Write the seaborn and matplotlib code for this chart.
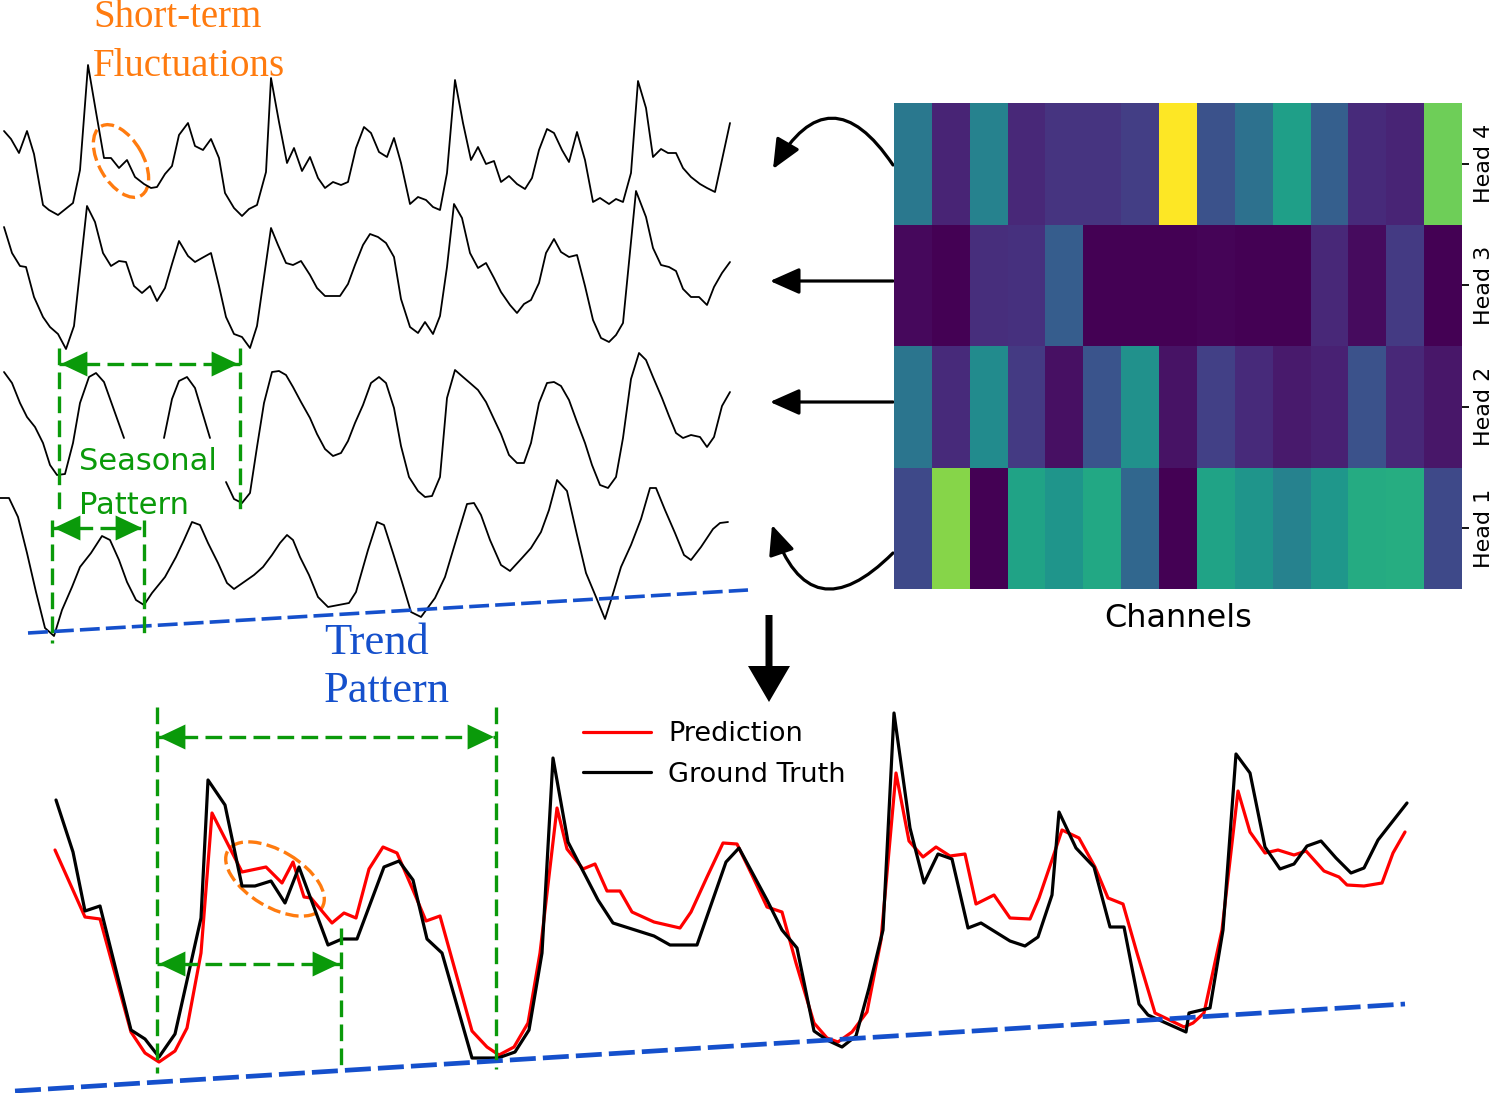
import numpy as np
import pandas as pd
import matplotlib
import matplotlib.pyplot as plt
import seaborn as sns
from matplotlib.patches import Ellipse, FancyArrowPatch

matplotlib.use('Agg')

W, H = 1495, 1093

# ---- top-left input series (time position, level) ----
s1_t = [4, 11, 19, 27, 34, 43, 49, 58, 73, 80, 88, 96, 104, 111, 119, 127, 135, 144, 151, 157, 165, 172, 179, 188, 195,
        203, 211, 219, 225, 234, 242, 249, 257, 266, 271, 279, 287, 294, 302, 310, 318, 325, 333, 341, 348, 356, 364,
        371, 379, 387, 394, 401, 410, 418, 426, 433, 440, 447, 455, 463, 471, 478, 486, 494, 501, 509, 517, 525, 532,
        539, 547, 554, 562, 569, 577, 585, 593, 600, 609, 616, 623, 631, 638, 646, 653, 661, 668, 676, 683, 691, 700,
        707, 715, 730]
s1_y = [131, 139, 153, 131, 154, 205, 210, 215, 203, 170, 65, 112, 158, 158, 168, 160, 177, 184, 188, 187, 174, 166,
        135, 123, 146, 150, 139, 158, 193, 208, 216, 209, 205, 172, 78, 122, 163, 148, 171, 157, 178, 188, 182, 185, 182,
        148, 127, 133, 152, 157, 138, 163, 204, 197, 200, 207, 210, 173, 80, 123, 160, 147, 164, 161, 182, 176, 184, 189,
        178, 150, 129, 133, 150, 162, 132, 160, 202, 198, 204, 199, 202, 173, 81, 108, 157, 149, 153, 153, 168, 177, 184,
        188, 192, 123]

s2_t = [4, 12, 20, 26, 34, 43, 50, 58, 66, 74, 87, 95, 103, 111, 119, 126, 134, 142, 150, 157, 165, 172, 179, 188, 195,
        202, 211, 219, 226, 234, 242, 250, 257, 271, 278, 286, 293, 301, 310, 317, 325, 333, 340, 348, 355, 363, 370,
        378, 386, 394, 401, 410, 418, 425, 433, 440, 447, 454, 462, 470, 478, 486, 494, 501, 510, 517, 524, 531, 539,
        546, 554, 561, 569, 577, 585, 593, 601, 609, 616, 623, 636, 646, 653, 661, 669, 676, 683, 691, 699, 707, 714,
        722, 730]
s2_y = [227, 253, 266, 267, 297, 317, 327, 334, 349, 326, 206, 222, 253, 266, 261, 262, 286, 293, 286, 301, 288, 264,
        241, 256, 262, 258, 253, 286, 317, 334, 337, 348, 326, 228, 245, 263, 265, 261, 275, 288, 296, 296, 296, 284, 265,
        245, 234, 237, 243, 257, 299, 327, 333, 322, 334, 316, 267, 204, 218, 253, 268, 263, 278, 292, 305, 313, 304, 300,
        283, 253, 239, 252, 257, 255, 286, 320, 338, 342, 335, 323, 191, 217, 248, 265, 267, 271, 289, 297, 297, 305, 287,
        273, 262]

# NaN marks where the series runs behind the "Seasonal Pattern" label
s3_t = [4, 12, 20, 27, 35, 43, 50, 57, 65, 73, 80, 89, 96, 104, 124, 144, 164, 172, 179, 187, 195, 210, 218, 226, 234,
        242, 250, 257, 264, 272, 279, 286, 293, 301, 310, 317, 325, 333, 341, 348, 355, 363, 371, 379, 386, 394, 401,
        409, 418, 425, 432, 440, 447, 455, 463, 470, 478, 486, 493, 501, 509, 517, 524, 531, 539, 547, 554, 561, 569,
        577, 585, 592, 600, 608, 616, 623, 631, 639, 646, 653, 662, 669, 676, 683, 691, 700, 707, 714, 722, 730]
s3_y = [372, 383, 403, 417, 427, 443, 465, 475, 474, 443, 403, 377, 373, 382, 438, np.nan, 438, 399, 381, 377, 388, 438,
        np.nan, 482, 499, 503, 493, 447, 403, 372, 371, 375, 387, 402, 418, 434, 449, 456, 453, 441, 423, 405, 383, 377,
        383, 408, 446, 477, 491, 497, 496, 477, 398, 370, 377, 383, 390, 402, 417, 434, 455, 463, 463, 443, 403, 383, 382,
        386, 400, 422, 443, 465, 485, 488, 477, 438, 379, 353, 360, 377, 398, 416, 433, 438, 435, 437, 447, 437, 406, 392]

s4_t = [0, 9, 18, 27, 36, 45, 54, 62, 72, 80, 91, 102, 110, 119, 127, 136, 144, 152, 165, 176, 184, 192, 200, 208, 218,
        227, 234, 244, 254, 263, 272, 280, 287, 293, 300, 309, 318, 328, 349, 356, 368, 377, 384, 393, 402, 411, 421,
        435, 445, 457, 467, 474, 481, 490, 501, 510, 522, 531, 541, 549, 557, 567, 577, 586, 596, 605, 612, 621, 631,
        641, 650, 656, 665, 675, 684, 691, 701, 713, 720, 728]
s4_y = [498, 498, 517, 553, 592, 628, 636, 610, 587, 567, 553, 536, 540, 560, 582, 600, 605, 593, 577, 557, 540, 522,
        525, 543, 563, 583, 589, 582, 575, 567, 555, 543, 535, 540, 557, 575, 597, 607, 603, 592, 550, 522, 525, 553, 582,
        612, 617, 598, 577, 537, 504, 503, 515, 540, 565, 571, 558, 548, 532, 510, 480, 491, 535, 573, 597, 619, 597, 567,
        545, 519, 488, 488, 510, 533, 555, 560, 547, 529, 523, 522]

# ---- bottom: prediction vs ground truth ----
gt_t = [56, 73, 85, 100, 131, 145, 159, 175, 201, 208, 225, 242, 255, 271, 285, 299, 328, 342, 357, 384, 399, 413, 427,
        442, 472, 498, 515, 529, 542, 553, 568, 598, 613, 654, 670, 697, 726, 739, 767, 782, 797, 814, 827, 842, 856,
        869, 883, 894, 910, 924, 938, 952, 968, 981, 1010, 1025, 1038, 1052, 1059, 1076, 1094, 1110, 1124, 1139, 1148,
        1186, 1189, 1210, 1223, 1236, 1250, 1265, 1280, 1294, 1307, 1321, 1336, 1351, 1364, 1378, 1407]
gt_y = [800, 852, 911, 906, 1030, 1039, 1057, 1034, 918, 780, 805, 886, 886, 881, 903, 867, 945, 939, 939, 867, 861, 880,
        939, 953, 1058, 1058, 1052, 1030, 953, 758, 842, 900, 923, 936, 945, 945, 862, 848, 900, 930, 948, 1031, 1040,
        1047, 1036, 988, 930, 713, 828, 883, 854, 859, 928, 923, 941, 946, 937, 895, 812, 848, 867, 927, 927, 1004, 1015,
        1032, 1013, 1008, 930, 754, 773, 847, 869, 864, 846, 841, 858, 873, 868, 840, 803]

pred_t = [55, 85, 100, 131, 145, 159, 175, 187, 201, 212, 242, 266, 282, 293, 304, 311, 332, 344, 356, 369, 383, 397,
          413, 426, 440, 472, 487, 499, 514, 528, 540, 557, 567, 583, 595, 607, 620, 632, 654, 680, 691, 707, 723, 737,
          752, 767, 782, 796, 814, 827, 838, 852, 867, 881, 896, 909, 923, 936, 950, 965, 976, 994, 1010, 1030, 1039,
          1052, 1062, 1079, 1095, 1108, 1123, 1137, 1155, 1184, 1193, 1204, 1222, 1238, 1250, 1265, 1278, 1294, 1306,
          1324, 1339, 1347, 1364, 1382, 1393, 1405]
pred_y = [850, 917, 919, 1032, 1053, 1062, 1051, 1028, 953, 813, 872, 867, 883, 862, 897, 898, 923, 913, 918, 869, 847,
          853, 890, 921, 916, 1031, 1047, 1055, 1047, 1023, 953, 808, 849, 869, 864, 891, 891, 912, 922, 928, 912, 877,
          843, 844, 875, 907, 912, 963, 1023, 1038, 1042, 1032, 1012, 940, 773, 841, 857, 847, 856, 854, 904, 895, 918,
          919, 898, 860, 830, 838, 867, 898, 904, 953, 1013, 1027, 1023, 1013, 930, 791, 832, 853, 850, 855, 851, 871, 877,
          885, 886, 883, 853, 832]

# ---- attention heatmap (rows top->bottom: Head 4 .. Head 1) ----
heads = ["Head 4", "Head 3", "Head 2", "Head 1"]
head4 = [0.40, 0.10, 0.44, 0.11, 0.15, 0.15, 0.18, 1.00, 0.25, 0.37, 0.56, 0.30, 0.12, 0.10, 0.78]
head3 = [0.02, 0.00, 0.13, 0.14, 0.29, 0.00, 0.00, 0.00, 0.01, 0.00, 0.00, 0.11, 0.03, 0.17, 0.00]
head2 = [0.39, 0.12, 0.48, 0.17, 0.04, 0.26, 0.50, 0.05, 0.19, 0.12, 0.07, 0.09, 0.25, 0.11, 0.06]
head1 = [0.22, 0.82, 0.00, 0.58, 0.52, 0.60, 0.33, 0.00, 0.58, 0.52, 0.44, 0.53, 0.61, 0.62, 0.22]

ORANGE = '#ff7b0f'
GREEN = '#0a9a0a'
BLUE = '#1550cc'


def draw_series(ax, t, y, **kw):
    # split on NaN so hidden parts stay blank
    t = np.asarray(t, float)
    y = np.asarray(y, float)
    ok = ~np.isnan(y)
    idx = np.flatnonzero(np.diff(np.r_[0, ok.astype(int), 0]))
    for a, b in zip(idx[::2], idx[1::2]):
        sns.lineplot(x=t[a:b], y=y[a:b], ax=ax, sort=False, estimator=None, **kw)


def green_span(ax, x0, x1, y, head=18):
    ax.plot([x0, x1], [y, y], color=GREEN, lw=2.4, dashes=(5, 2.2))
    for xa, xb in [(x0 + head + 4, x0 + 2), (x1 - head - 4, x1 - 2)]:
        ax.add_patch(FancyArrowPatch((xa, y), (xb, y), arrowstyle='-|>,head_length=0.95,head_width=0.45',
                                     mutation_scale=20, color=GREEN, lw=0, shrinkA=0, shrinkB=0))


sns.set_style('white')
plt.rcParams['font.family'] = ['DejaVu Sans']
for k in ['text.color', 'axes.labelcolor', 'xtick.color', 'ytick.color']:
    plt.rcParams[k] = 'black'

fig = plt.figure(figsize=(W / 100, H / 100), dpi=100)
ax = fig.add_axes([0, 0, 1, 1])

for t, y in [(s1_t, s1_y), (s2_t, s2_y), (s3_t, s3_y), (s4_t, s4_y)]:
    draw_series(ax, t, y, color='black', linewidth=1.3)

sns.lineplot(x=pred_t, y=pred_y, ax=ax, sort=False, estimator=None, color='#ff0000', linewidth=2.3, label='Prediction')
sns.lineplot(x=gt_t, y=gt_y, ax=ax, sort=False, estimator=None, color='black', linewidth=2.3, label='Ground Truth')

ax.set_xlim(0, W)
ax.set_ylim(H, 0)
ax.axis('off')

# trend lines
ax.plot([28, 748], [633, 590], color=BLUE, lw=2.6, dashes=(5.5, 1.7))
ax.plot([15, 1405], [1091, 1004], color=BLUE, lw=3.4, dashes=(5.5, 1.5))

# seasonal markers
for x, y0, y1 in [(59, 348, 510), (240, 348, 510), (52, 520, 643), (144, 520, 640),
                  (157, 707, 1073), (496, 707, 1069), (341, 928, 1069)]:
    ax.plot([x, x], [y0, y1], color=GREEN, lw=2.4, dashes=(5, 2.2))
green_span(ax, 59, 240, 364)
green_span(ax, 52, 144, 528, head=15)
green_span(ax, 157, 496, 737, head=20)
green_span(ax, 157, 341, 964, head=20)

# short-term fluctuation rings
ax.add_patch(Ellipse((121, 161), 80, 44, angle=60, fill=False, ec=ORANGE, lw=2.4, ls=(0, (4, 1.6))))
ax.add_patch(Ellipse((275, 879), 110, 56, angle=31, fill=False, ec=ORANGE, lw=2.4, ls=(0, (4, 1.6))))

# labels
ax.text(93, 27, "Short-term", color=ORANGE, family='Liberation Serif', fontsize=28, va='baseline')
ax.text(93, 76, "Fluctuations", color=ORANGE, family='Liberation Serif', fontsize=28, va='baseline')
ax.text(79, 470, "Seasonal", color=GREEN, fontsize=22, va='baseline')
ax.text(79, 514, "Pattern", color=GREEN, fontsize=22, va='baseline')
ax.text(324, 654, "Trend", color=BLUE, family='Liberation Serif', fontsize=32, va='baseline')
ax.text(324, 702, "Pattern", color=BLUE, family='Liberation Serif', fontsize=32, va='baseline')

# arrows from heads back to the series
ax.add_patch(FancyArrowPatch((893, 165), (773, 169), connectionstyle='arc3,rad=0.8',
                             arrowstyle='-|>,head_length=0.9,head_width=0.4', mutation_scale=20,
                             color='black', lw=2.3, shrinkA=0, shrinkB=0))
ax.add_patch(FancyArrowPatch((893, 553), (772, 525), connectionstyle='arc3,rad=-0.8',
                             arrowstyle='-|>,head_length=0.9,head_width=0.4', mutation_scale=20,
                             color='black', lw=2.3, shrinkA=0, shrinkB=0))
for y in [281, 402]:
    ax.add_patch(FancyArrowPatch((893, y), (770, y), arrowstyle='-|>,head_length=0.9,head_width=0.4',
                                 mutation_scale=20, color='black', lw=2.3, shrinkA=0, shrinkB=0))
ax.arrow(769, 615, 0, 87, width=7, head_width=42, head_length=36, length_includes_head=True,
         color='black', lw=0)

ax.legend(loc='upper left', bbox_to_anchor=(583, 721), bbox_transform=ax.transData, frameon=False,
          fontsize=19.5, handlelength=2.5, handletextpad=0.65, labelspacing=0.55, borderpad=0, borderaxespad=0)

# heatmap
heat_df = pd.DataFrame([head4, head3, head2, head1], index=heads)
ax_h = fig.add_axes([894 / W, 1 - 589 / H, 568 / W, 486 / H])
sns.heatmap(heat_df, cmap='viridis', vmin=0, vmax=1, cbar=False, xticklabels=False, yticklabels=heads, ax=ax_h)
ax_h.yaxis.tick_right()
ax_h.set_yticklabels(heads, rotation=90, va='center', fontsize=16)
ax_h.tick_params(axis='y', length=5, width=1.3, pad=4)
ax_h.set_xlabel('Channels', fontsize=23, labelpad=10)

fig.savefig('out.png', dpi=100)
